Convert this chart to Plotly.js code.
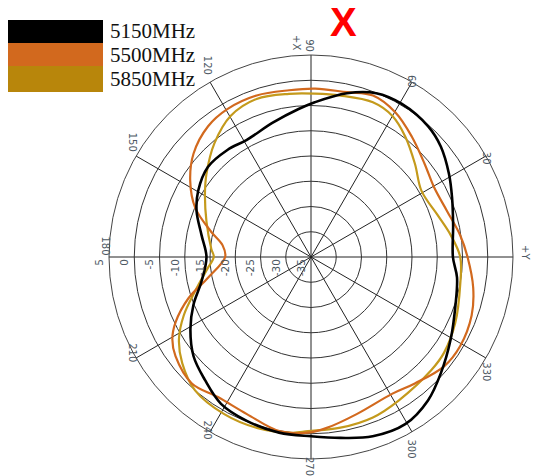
<!DOCTYPE html>
<html>
<head>
<meta charset="utf-8">
<script src="https://cdn.plot.ly/plotly-3.0.1.min.js"></script>
<style>html,body{margin:0;padding:0;background:#fff;}#chart{width:533px;height:476px;}</style>
</head>
<body>
<div id="chart"></div>
<script>
// Series names and colours
var seriesNames = ["5150MHz", "5500MHz", "5850MHz"];
var legendColors = ["#000000", "#D2691E", "#B8860B"];
var lineColors = ["#000000", "#D2691E", "#C49A1C"];

// 5150MHz (angle deg, gain dB)
var theta5150 = [0, 12.7, 22.8, 31.1, 40.4, 48.2, 59.3, 68.3, 77.6, 88.6, 94.8, 105.9, 118.7, 128, 138.9, 149.6, 158.2, 168.7, 180, 192.5, 202.2, 210.8, 220.2, 229.2, 238.5, 248.6, 259.7, 270, 279.3, 289, 299.4, 309.2, 318.2, 329.5, 341.6, 352, 360];
var r5150 = [-6.9, -6.15, -4.7, -3.1, -1.25, -0.25, 0.25, -0.1, -1.8, -4.35, -5.6, -7.35, -8.55, -8.1, -7.9, -9.1, -10.6, -12.9, -14.3, -12.8, -9.85, -7.2, -4.55, -2.85, -0.9, -0.15, 0.35, 0.5, 1.3, 2.55, 3.0, 1.65, -0.5, -2.9, -4.85, -5.8, -6.9];

// 5500MHz
var theta5500 = [0, 8.3, 18.5, 29.4, 39.4, 50.1, 59.7, 69, 77.7, 88.6, 97.5, 108.6, 119.5, 128.2, 138.6, 147.7, 157, 165.8, 172.5, 180, 191.4, 198.6, 205.7, 210.6, 216.2, 226.7, 236.4, 247.8, 259.7, 269, 275.5, 286.2, 300.8, 309.4, 320.6, 329.2, 340, 349.2, 360];
var r5500 = [-4.0, -5.15, -6.55, -7.0, -5.9, -3.9, -1.85, -0.75, -1.6, -1.65, -1.7, -1.25, -1.35, -2.05, -4.0, -6.7, -10.1, -14.6, -17.35, -18.0, -14.2, -9.4, -5.25, -3.1, -1.75, -0.6, -1.7, -1.4, 0.05, -0.2, -1.05, -2.6, -3.5, -2.6, -0.9, -0.6, -1.15, -2.3, -4.0];

// 5850MHz
var theta5850 = [0, 8.9, 18.4, 30.9, 41.9, 52, 60, 68.2, 79.6, 88.6, 97.7, 109, 119.6, 130.3, 141.5, 149.4, 161.3, 175.4, 180, 185.9, 196.5, 204.6, 211.9, 219.5, 229, 241.1, 252.4, 263.9, 269, 279.8, 291.1, 301.4, 316.8, 324.3, 335.5, 349.5, 360];
var r5850 = [-5.45, -7.0, -8.6, -9.5, -7.35, -4.7, -2.75, -2.0, -2.5, -2.65, -2.4, -1.9, -2.85, -5.45, -8.55, -10.6, -13.15, -15.2, -15.75, -14.5, -11.05, -7.3, -4.2, -1.95, 0, 0.55, 0.5, 0, -0.5, -0.7, -0.95, -1.7, -2.3, -2.55, -3.6, -4.95, -5.45];

// Axis ticks
var angularTickVals = [0, 30, 60, 90, 120, 150, 180, 210, 240, 270, 300, 330];
var angularTickText = ["", "30", "60", "90", "120", "150", "180", "210", "240", "270", "300", "330"];
var radialTickVals = [-35, -30, -25, -20, -15, -10, -5, 0, 5];
var radialTickText = ["-35", "-30", "-25", "-20", "-15", "-10", "-5", "0", "5"];
var radialRange = [-35, 5];

var thetas = [theta5150, theta5500, theta5850];
var rs = [r5150, r5500, r5850];
var widths = [2.6, 2.2, 2.2];

var traces = seriesNames.map(function (n, i) {
  return {
    type: "scatterpolar",
    mode: "lines",
    name: n,
    theta: thetas[i],
    r: rs[i],
    line: {color: lineColors[i], width: widths[i], shape: "spline", smoothing: 1},
    hoverinfo: "skip"
  };
});
// draw black on top
traces = [traces[2], traces[1], traces[0]];
// invisible carrier trace for the label-only overlay subplot
traces.push({
  type: "scatterpolar", subplot: "polar2", mode: "markers",
  r: [radialTickVals[radialTickVals.length - 1]], theta: [angularTickVals[0]],
  marker: {opacity: 0, size: 1}, hoverinfo: "skip", showlegend: false
});

var legendTops = [20, 43, 66];
var legendBottoms = [43, 66, 92];
var shapes = [];
var annotations = [];
seriesNames.forEach(function (n, i) {
  shapes.push({
    type: "rect", xref: "paper", yref: "paper",
    x0: 8 / 533, x1: 103 / 533,
    y0: 1 - legendBottoms[i] / 476, y1: 1 - legendTops[i] / 476,
    fillcolor: legendColors[i], line: {width: 0}
  });
  annotations.push({
    xref: "paper", yref: "paper", x: 108 / 533, y: 1 - (legendTops[i] + legendBottoms[i]) / 2 / 476,
    xanchor: "left", yanchor: "middle", showarrow: false, text: n,
    font: {family: "Liberation Serif, Times New Roman, serif", size: 21, color: "#111"}
  });
});
annotations.push({
  xref: "paper", yref: "paper", x: 343 / 533, y: 1 - 22 / 476,
  xanchor: "center", yanchor: "middle", showarrow: false, text: "<b>X</b>",
  font: {family: "Liberation Sans, Arial, sans-serif", size: 40, color: "#FF0000"}
});
annotations.push({
  xref: "paper", yref: "paper", x: 297 / 533, y: 1 - 42 / 476,
  xanchor: "center", yanchor: "middle", showarrow: false, text: "+X", textangle: 90,
  font: {family: "DejaVu Sans, sans-serif", size: 10, color: "#4d5863"}
});
annotations.push({
  xref: "paper", yref: "paper", x: 526 / 533, y: 1 - 252 / 476,
  xanchor: "center", yanchor: "middle", showarrow: false, text: "+Y", textangle: 90,
  font: {family: "DejaVu Sans, sans-serif", size: 10, color: "#4d5863"}
});

// geometry: centre (311, 257 from top), radius 202 px
var cx = 311, cyTop = 257, R = 202;
var pxPerDb = R / (radialRange[1] - radialRange[0]);
var labelShiftDb = 1.9;
var R2 = R + labelShiftDb * pxPerDb;

var tickFont = {family: "DejaVu Sans, sans-serif", size: 10, color: "#4d5863"};

var layout = {
  width: 533, height: 476,
  margin: {l: 0, r: 0, t: 0, b: 0},
  paper_bgcolor: "#ffffff",
  showlegend: false,
  polar: {
    domain: {x: [(cx - R) / 533, (cx + R) / 533], y: [(476 - cyTop - R) / 476, (476 - cyTop + R) / 476]},
    bgcolor: "#ffffff",
    angularaxis: {
      rotation: 0, direction: "counterclockwise",
      tickmode: "array", tickvals: angularTickVals, ticktext: angularTickText,
      tickangle: 90,
      ticks: "", showline: true, linecolor: "#444", linewidth: 1,
      gridcolor: "#222", gridwidth: 1,
      tickfont: tickFont
    },
    radialaxis: {
      range: radialRange, angle: 180,
      tickmode: "array", tickvals: radialTickVals,
      showticklabels: false,
      ticks: "", showline: false,
      gridcolor: "#333", gridwidth: 1
    }
  },
  polar2: {
    domain: {x: [(cx - R2) / 533, (cx + R2) / 533], y: [(476 - cyTop - R2) / 476, (476 - cyTop + R2) / 476]},
    bgcolor: "rgba(0,0,0,0)",
    angularaxis: {
      rotation: 0, direction: "counterclockwise",
      showgrid: false, showline: false, showticklabels: false, ticks: ""
    },
    radialaxis: {
      range: [radialRange[0] - labelShiftDb, radialRange[1]], angle: 180, side: "counterclockwise",
      tickmode: "array", tickvals: radialTickVals, ticktext: radialTickText,
      tickangle: 90,
      ticks: "", showline: false, showgrid: false,
      tickfont: {family: "DejaVu Sans, sans-serif", size: 10.5, color: "#4d5863"}
    }
  },
  shapes: shapes,
  annotations: annotations
};

Plotly.newPlot("chart", traces, layout, {staticPlot: true});
</script>
</body>
</html>
